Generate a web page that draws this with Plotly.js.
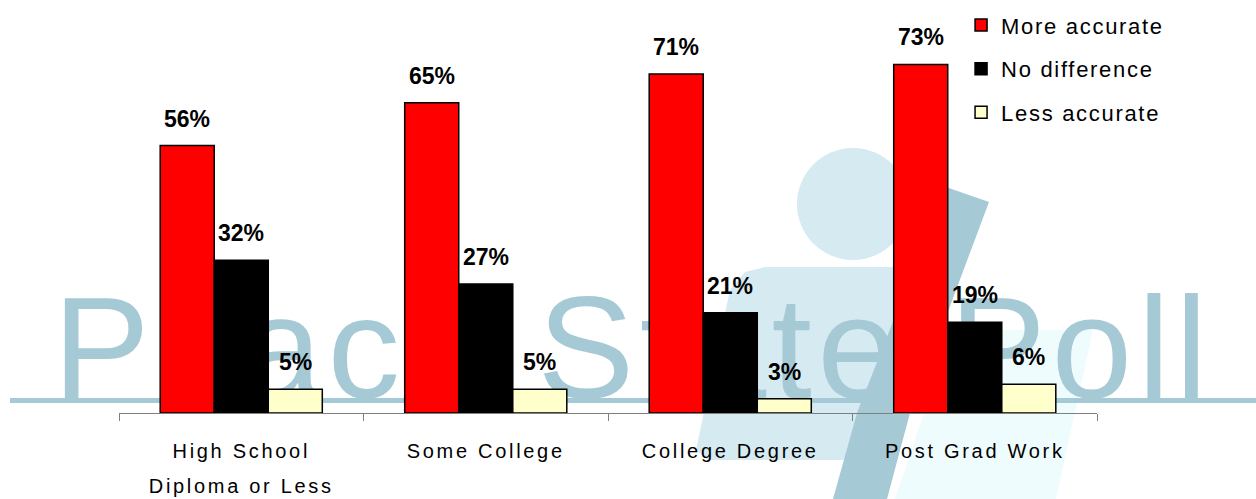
<!DOCTYPE html>
<html>
<head>
<meta charset="utf-8">
<script src="https://cdn.plot.ly/plotly-3.0.1.min.js"></script>
<style>
  html, body { margin: 0; padding: 0; background: #ffffff; }
  #chart { width: 1256px; height: 499px; }
  .xtick text { letter-spacing: 2.7px; }
  .legendtext { letter-spacing: 1.7px; }
  .shapelayer text { letter-spacing: 5.5px; }
</style>
</head>
<body>
<div id="chart"></div>
<script>
// ---- Data ----
const categories = ['High School<br>Diploma or Less', 'Some College', 'College Degree', 'Post Grad Work'];
const seriesNames = ['More accurate', 'No difference', 'Less accurate'];
const moreAccurate = [56, 65, 71, 73];
const noDifference = [32, 27, 21, 19];
const lessAccurate = [5, 5, 3, 6];
const watermarkText = 'Peach State Poll';

// ---- Style ----
const seriesValues = [moreAccurate, noDifference, lessAccurate];
const seriesColors = ['#ff0000', '#000000', '#ffffcc'];
const FONT = 'Arial, "Liberation Sans", sans-serif';
const W = 1256, H = 499;
const margin = { l: 119, r: 159, t: 31, b: 86, autoexpand: false };
const plotW = W - margin.l - margin.r;
const plotH = H - margin.t - margin.b;
const bargap = 0.337;
const barW = plotW / categories.length * (1 - bargap) / seriesNames.length;

// pixel -> paper helpers for decorative watermark
const PX = px => (px - margin.l) / plotW;
const PY = py => (H - margin.b - py) / plotH;
function pathPx(points) {
  return 'M ' + points.map(p => PX(p[0]).toFixed(5) + ',' + PY(p[1]).toFixed(5)).join(' L ') + ' Z';
}

const traces = seriesNames.map((name, i) => ({
  type: 'bar',
  name: name,
  x: categories,
  y: seriesValues[i],
  legendgroup: 'g' + i,
  marker: { color: seriesColors[i], line: { color: '#000000', width: 1.5 } },
  hoverinfo: 'skip'
}));

const annotations = [];
seriesValues.forEach((vals, i) => {
  vals.forEach((v, j) => {
    annotations.push({
      x: categories[j], y: v, xref: 'x', yref: 'y',
      xshift: (i - 1) * barW, yshift: 12,
      yanchor: 'bottom', xanchor: 'center',
      text: v + '%', showarrow: false,
      font: { family: FONT, size: 23, color: '#000000', weight: 'bold' }
    });
  });
});

const wmDark = '#a6c9d6';
const wmLight = '#d5eaf1';
const wmCyan = '#effcfe';
const shapes = [
  // light cyan flag
  { type: 'path', xref: 'paper', yref: 'paper', layer: 'below', line: { width: 0 }, fillcolor: wmCyan,
    path: pathPx([[952, 330], [1093, 330], [1056, 499], [895, 499]]) },
  // head
  { type: 'circle', xref: 'paper', yref: 'paper', layer: 'below', line: { width: 0 }, fillcolor: wmLight,
    x0: PX(797), x1: PX(909), y0: PY(260), y1: PY(148) },
  // body
  { type: 'path', xref: 'paper', yref: 'paper', layer: 'below', line: { width: 0 }, fillcolor: wmLight,
    path: pathPx([[765, 267], [935, 267], [875, 460], [708, 460], [696, 450], [730, 290], [745, 272]]) },
  // underline
  { type: 'rect', xref: 'paper', yref: 'paper', layer: 'below', line: { width: 0 }, fillcolor: wmDark,
    x0: PX(10), x1: PX(1256), y0: PY(403), y1: PY(398) },
  // slash
  { type: 'path', xref: 'paper', yref: 'paper', layer: 'below', line: { width: 0 }, fillcolor: wmDark,
    path: pathPx([[946, 187], [989, 202], [910, 413], [887, 499], [833, 499], [857, 413]]) },
  // watermark text
  { type: 'rect', xref: 'paper', yref: 'paper', layer: 'below', line: { width: 0 }, fillcolor: 'rgba(0,0,0,0)',
    x0: PX(50), x1: PX(1240), y0: PY(415), y1: PY(240),
    label: { text: watermarkText, textposition: 'bottom left', padding: 0,
             font: { family: FONT, size: 145, color: wmDark } } }
];

const layout = {
  width: W, height: H,
  margin: margin,
  paper_bgcolor: '#ffffff',
  plot_bgcolor: 'rgba(0,0,0,0)',
  barmode: 'group',
  bargap: bargap,
  bargroupgap: 0,
  showlegend: true,
  legend: {
    x: 0.861, y: 1.07, xanchor: 'left', yanchor: 'top',
    bgcolor: 'rgba(0,0,0,0)', borderwidth: 0,
    font: { family: FONT, size: 22, color: '#000000' },
    tracegroupgap: 12, traceorder: 'grouped'
  },
  xaxis: {
    type: 'category',
    showline: true, linecolor: '#7f7f7f', linewidth: 1,
    ticks: 'outside', tickson: 'boundaries', ticklen: 7, tickcolor: '#7f7f7f',
    tickfont: { family: FONT, size: 20, color: '#000000' },
    ticklabelstandoff: 20,
    showgrid: false, zeroline: false, fixedrange: true
  },
  yaxis: {
    range: [0, 80],
    showgrid: false, zeroline: false, showticklabels: false, showline: false, ticks: '',
    fixedrange: true
  },
  annotations: annotations,
  shapes: shapes
};

Plotly.newPlot('chart', traces, layout, { displayModeBar: false, staticPlot: true }).then(() => {
  // widen line spacing of the multi-line category label to match the original
  document.querySelectorAll('.xtick text tspan.line').forEach(t => {
    const dy = parseFloat(t.getAttribute('dy'));
    if (dy > 0) t.setAttribute('dy', (dy * 1.35).toFixed(3) + 'em');
  });
});
</script>
</body>
</html>
